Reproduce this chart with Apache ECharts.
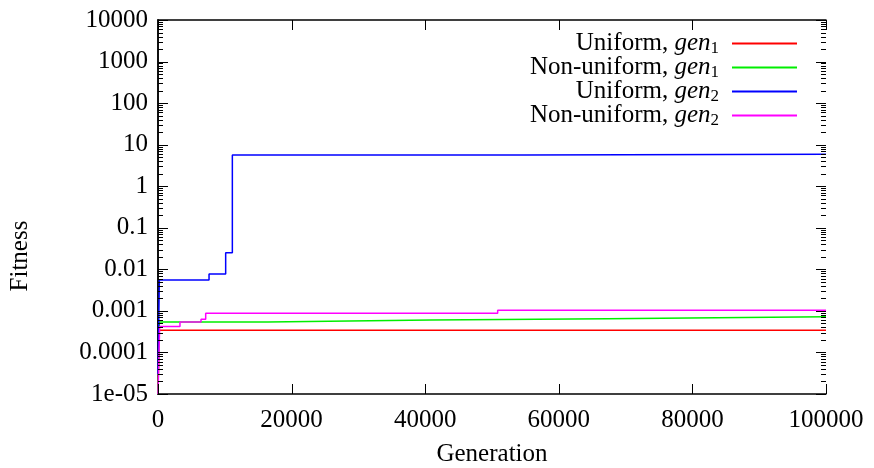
<!DOCTYPE html>
<html>
<head>
<meta charset="utf-8">
<script src="https://cdn.jsdelivr.net/npm/echarts@6/dist/echarts.min.js"></script>
<style>
  html, body { margin: 0; padding: 0; background: #fff; }
  #chart { width: 874px; height: 468px; }
</style>
</head>
<body>
<div id="chart"></div>
<script>
// Best fitness found so far, per generation (step curves on a log scale)
const uniformGen1 = [[0, 1e-5], [150, 3.4e-4], [100000, 3.4e-4]];
const nonUniformGen1 = [[0, 1e-5], [200, 5.4e-4], [16420, 6.0e-4], [40870, 6.5e-4], [67260, 7.2e-4], [100000, 7.2e-4]];
const uniformGen2 = [[0, 3e-5], [200, 5.5e-3], [7640, 7.7e-3], [10130, 0.025], [11130, 5.65], [54840, 5.9], [100000, 5.9]];
const nonUniformGen2 = [[0, 1e-5], [250, 4.2e-4], [3290, 5.4e-4], [6440, 6.3e-4], [7140, 8.8e-4], [50850, 1.04e-3], [100000, 1.04e-3]];

const seriesNames = ['Uniform, gen1', 'Non-uniform, gen1', 'Uniform, gen2', 'Non-uniform, gen2'];
const legendLabels = ['Uniform, {i|gen}{s|1}', 'Non-uniform, {i|gen}{s|1}', 'Uniform, {i|gen}{s|2}', 'Non-uniform, {i|gen}{s|2}'];
const seriesColors = ['#ff0000', '#00ee00', '#0000ff', '#ff00ff'];

const xTicks = [0, 20000, 40000, 60000, 80000, 100000];
const yTicks = [1e-5, 1e-4, 1e-3, 1e-2, 1e-1, 1, 10, 100, 1000, 10000];
const yTickLabels = ['1e-05', '0.0001', '0.001', '0.01', '0.1', '1', '10', '100', '1000', '10000'];

// minor log ticks (2..9 within each decade)
const yMinorTicks = [];
for (let e = -5; e < 4; e++) {
  for (let m = 2; m <= 9; m++) yMinorTicks.push(m * Math.pow(10, e));
}

const FONT = 'Liberation Serif';
const allSeries = [uniformGen1, nonUniformGen1, uniformGen2, nonUniformGen2];

// tick marks drawn inward on all four sides of the frame
const tickData = []
  .concat(yTicks.map(v => [0, v, 0, 10]))
  .concat(yMinorTicks.map(v => [0, v, 0, 5]))
  .concat(xTicks.map(v => [v, 1, 1, 10]));

const chart = echarts.init(document.getElementById('chart'), null, { renderer: 'canvas' });

const frameLine = () => ({ show: true, lineStyle: { color: '#000', width: 1.5 } });

const option = {
  animation: false,
  backgroundColor: '#fff',
  grid: { left: 158, right: 48, top: 20, bottom: 74, containLabel: false, outerBoundsMode: 'none' },
  legend: {
    orient: 'vertical',
    right: 72,
    top: 25,
    itemGap: -3,
    itemWidth: 65,
    itemHeight: 2,
    icon: 'rect',
    align: 'right',
    data: seriesNames,
    formatter: name => legendLabels[seriesNames.indexOf(name)],
    textStyle: {
      fontFamily: FONT, fontSize: 25, color: '#000', width: 230, align: 'right',
      lineHeight: 24, padding: [0, 8, 0, 0],
      rich: {
        i: { fontFamily: FONT, fontStyle: 'italic', fontSize: 25, color: '#000', lineHeight: 24 },
        s: { fontFamily: FONT, fontSize: 17, color: '#000', lineHeight: 24, padding: [10, 0, 0, 0] }
      }
    }
  },
  xAxis: [
    {
      type: 'value', position: 'bottom', min: 0, max: 100000, interval: 20000,
      axisLine: frameLine(), axisTick: { show: false }, splitLine: { show: false },
      axisLabel: { fontFamily: FONT, fontSize: 25, color: '#000', margin: 14,
        formatter: v => String(xTicks[Math.round(v / 20000)]) },
      name: 'Generation', nameLocation: 'middle', nameGap: 48,
      nameTextStyle: { fontFamily: FONT, fontSize: 25, color: '#000' }
    },
    {
      type: 'value', position: 'top', min: 0, max: 100000, interval: 20000,
      axisLine: frameLine(), axisTick: { show: false }, splitLine: { show: false },
      axisLabel: { show: false }
    }
  ],
  yAxis: [
    {
      type: 'log', logBase: 10, min: 1e-5, max: 1e4, splitNumber: 9, interval: 1,
      axisLine: frameLine(), axisTick: { show: false }, splitLine: { show: false },
      axisLabel: { fontFamily: FONT, fontSize: 25, color: '#000', margin: 10,
        formatter: v => yTickLabels[Math.round(Math.log10(v)) + 5] }
    },
    {
      type: 'log', logBase: 10, position: 'right', min: 1e-5, max: 1e4, splitNumber: 9, interval: 1,
      axisLine: frameLine(), axisTick: { show: false }, splitLine: { show: false },
      axisLabel: { show: false }
    }
  ],
  graphic: [{
    type: 'text', x: 20, y: 256, rotation: Math.PI / 2,
    style: { text: 'Fitness', font: '25px "' + FONT + '"', fill: '#000', align: 'center', verticalAlign: 'middle' }
  }],
  series: allSeries.map((d, i) => ({
    name: seriesNames[i], type: 'line', step: 'end', data: d,
    xAxisIndex: 0, yAxisIndex: 0, showSymbol: false, symbol: 'none',
    lineStyle: { color: seriesColors[i], width: 1.5 }, itemStyle: { color: seriesColors[i] },
    z: 3 + i
  })).concat([{
    type: 'custom', name: 'ticks', data: tickData, silent: true, clip: false, z: 10,
    xAxisIndex: 0, yAxisIndex: 0,
    renderItem: (params, api) => {
      const cs = params.coordSys;
      const len = api.value(3);
      const st = { stroke: '#000', lineWidth: 1 };
      if (api.value(2) === 0) {
        const y = Math.round(api.coord([0, api.value(1)])[1]) + 0.5;
        return {
          type: 'group', children: [
            { type: 'line', shape: { x1: cs.x, y1: y, x2: cs.x + len, y2: y }, style: st },
            { type: 'line', shape: { x1: cs.x + cs.width - len, y1: y, x2: cs.x + cs.width, y2: y }, style: st }
          ]
        };
      }
      const x = Math.round(api.coord([api.value(0), 1])[0]) + 0.5;
      return {
        type: 'group', children: [
          { type: 'line', shape: { x1: x, y1: cs.y + cs.height, x2: x, y2: cs.y + cs.height - len }, style: st },
          { type: 'line', shape: { x1: x, y1: cs.y, x2: x, y2: cs.y + len }, style: st }
        ]
      };
    }
  }])
};

chart.setOption(option);
</script>
</body>
</html>
